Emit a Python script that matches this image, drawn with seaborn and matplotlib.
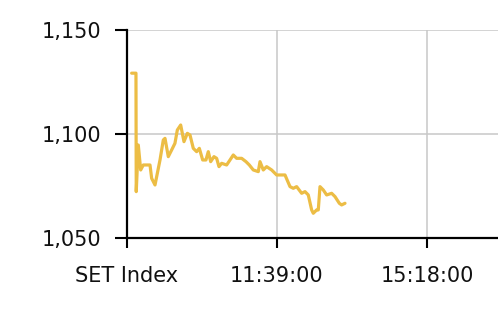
import matplotlib
matplotlib.use("Agg")
import matplotlib.pyplot as plt
import seaborn as sns
import pandas as pd

# minutes after 08:00 (first tick, labelled "SET Index")
minutes = [6.8, 13.1, 13.5, 16.5, 20.0, 23.8, 33.6, 36.0, 40.9, 48.2, 53.0, 55.5,
           60.3, 65.2, 70.0, 73.5, 78.4, 83.2, 88.1, 92.0, 96.8, 101.7, 105.6,
           110.5, 115.3, 118.7, 122.2, 127.0, 130.9, 134.3, 138.2, 145.5, 150.4,
           155.2, 160.1, 167.4, 173.7, 178.6, 184.4, 191.7, 194.2, 199.0, 203.9,
           211.2, 218.5, 230.7, 238.0, 242.8, 247.7, 255.0, 259.9, 264.7, 269.6,
           272.0, 276.9, 279.3, 281.8, 286.6, 291.5, 298.8, 303.7, 310.0, 313.4,
           318.3]
index_values = [1129.2, 1129.2, 1072.3, 1094.7, 1082.7, 1085.1, 1085.1, 1078.7,
                1075.5, 1087.5, 1097.1, 1097.9, 1089.1, 1092.3, 1095.5, 1101.9,
                1104.3, 1096.3, 1100.3, 1099.5, 1093.1, 1091.5, 1093.1, 1087.5,
                1087.5, 1091.5, 1086.7, 1089.1, 1088.3, 1084.3, 1085.9, 1085.1,
                1087.5, 1089.9, 1088.3, 1088.3, 1086.7, 1085.1, 1082.7, 1081.9,
                1086.7, 1082.7, 1084.3, 1082.7, 1080.3, 1080.3, 1074.7, 1073.9,
                1074.7, 1071.5, 1072.3, 1070.7, 1063.5, 1061.9, 1063.5, 1063.5,
                1074.7, 1073.1, 1070.7, 1071.5, 1069.9, 1066.7, 1065.9, 1066.7]

x_ticks = [0, 219, 438]
x_tick_labels = ["SET Index", "11:39:00", "15:18:00"]
y_ticks = [1050, 1100, 1150]
y_tick_labels = ["1,050", "1,100", "1,150"]

df = pd.DataFrame({"minute": minutes, "value": index_values})

sns.set_style("white")
fig = plt.figure(figsize=(4.98, 3.32), dpi=100)
ax = fig.add_axes([0.255, 0.283, 0.745, 0.627])

sns.lineplot(data=df, x="minute", y="value", ax=ax, color="#ECBD45",
             linewidth=2.3, zorder=3)

ax.set_xlim(0, 541.7)
ax.set_ylim(1050, 1150)
ax.set_xticks(x_ticks)
ax.set_xticklabels(x_tick_labels)
ax.set_yticks(y_ticks)
ax.set_yticklabels(y_tick_labels)
ax.set_xlabel("")
ax.set_ylabel("")

ax.grid(True, color="#c8c8c8", linewidth=1.1, zorder=0)
for s in ["top", "right"]:
    ax.spines[s].set_visible(False)
for s in ["left", "bottom"]:
    ax.spines[s].set_color("black")
    ax.spines[s].set_linewidth(1.6)

ax.tick_params(axis="y", direction="out", length=8.5, width=1.5, color="black",
               pad=10, labelsize=15, labelcolor="#111111", left=True)
ax.tick_params(axis="x", direction="out", length=7, width=1.5, color="black",
               pad=13, labelsize=15, labelcolor="#111111", bottom=True)

fig.savefig("out.png", dpi=100)
